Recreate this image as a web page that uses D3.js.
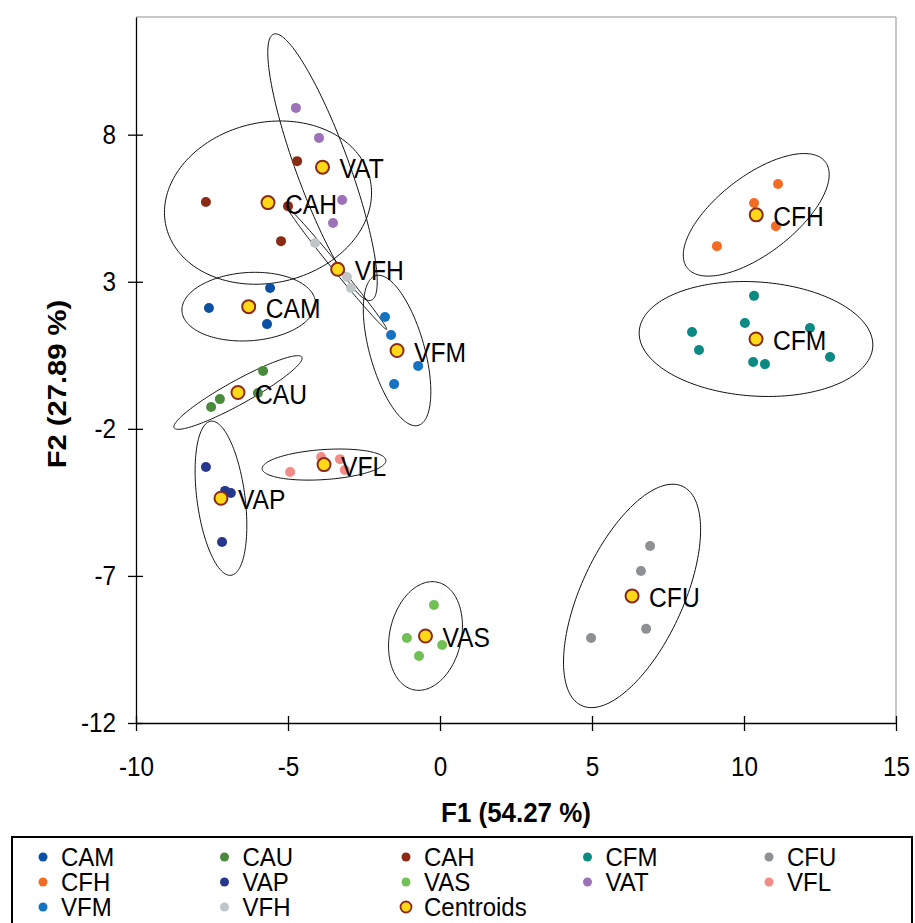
<!DOCTYPE html>
<meta charset="utf-8">
<style>
body { margin: 0; background: #fff; }
svg { font-family: "Liberation Sans", Arial, sans-serif; }
.axis path, .axis line { stroke: #000; stroke-width: 1.3px; }
.ellipse { fill: none; stroke: #111; stroke-width: 1px; }
.frame { stroke: #b4b4b4; stroke-width: 1.5px; }
</style>
<svg width="915" height="923"></svg>
<script src="https://d3js.org/d3.v7.min.js"></script>
<script>

var svg = d3.select("svg");

// groups, in legend order
var groups = ["CAM", "CAU", "CAH", "CFM", "CFU", "CFH", "VAP", "VAS", "VAT", "VFL", "VFM", "VFH"];
var groupColors = ["#0b50a3", "#4a8a3c", "#8b2b16", "#0a8a82", "#8d9193", "#f26c24",
                   "#26388c", "#72bf55", "#9e72b8", "#f18c88", "#1573c0", "#c0c6c8"];

// observations (F1, F2)
var obsGroup = ["CAM", "CAM", "CAM",
                "CAU", "CAU", "CAU", "CAU",
                "CAH", "CAH", "CAH", "CAH",
                "CFM", "CFM", "CFM", "CFM", "CFM", "CFM", "CFM", "CFM",
                "CFU", "CFU", "CFU", "CFU",
                "CFH", "CFH", "CFH", "CFH",
                "VAP", "VAP", "VAP", "VAP",
                "VAS", "VAS", "VAS", "VAS",
                "VAT", "VAT", "VAT", "VAT",
                "VFL", "VFL", "VFL", "VFL",
                "VFM", "VFM", "VFM", "VFM",
                "VFH", "VFH", "VFH"];
var obsF1 = [-7.60, -5.59, -5.69,
             -5.82, -5.99, -7.24, -7.53,
             -4.70, -7.70, -5.00, -5.23,
             10.33, 10.03, 8.29, 8.52, 12.17, 12.83, 10.30, 10.69,
             6.91, 6.61, 6.78, 4.97,
             11.12, 10.33, 11.05, 9.11,
             -7.70, -7.07, -6.88, -7.17,
             -0.20, -1.09, 0.07, -0.69,
             -4.74, -3.98, -3.22, -3.52,
             -4.93, -3.91, -3.29, -3.13,
             -1.81, -1.61, -0.72, -1.51,
             -4.11, -3.06, -2.93];
var obsF2 = [2.11, 2.79, 1.56,
             -0.03, -0.78, -0.99, -1.26,
             7.10, 5.71, 5.57, 4.38,
             2.52, 1.60, 1.29, 0.68, 1.43, 0.44, 0.27, 0.20,
             -5.98, -6.83, -8.80, -9.11,
             6.32, 5.68, 4.89, 4.21,
             -3.30, -4.11, -4.18, -5.85,
             -7.99, -9.11, -9.35, -9.72,
             8.91, 7.89, 5.78, 5.00,
             -3.47, -2.96, -3.03, -3.40,
             1.80, 1.19, 0.14, -0.48,
             4.32, 3.16, 2.79];

// confidence ellipses: semi-axes (F units) and rotation (degrees), per group
var ellMajor = [2.20, 2.42, 3.45, 3.85, 4.08, 2.90, 2.64, 1.87, 4.80, 2.04, 2.64, 2.60];
var ellMinor = [1.16, 0.40, 2.72, 1.94, 1.69, 1.30, 0.79, 1.18, 0.87, 0.51, 0.90, 0.12];
var ellAngle = [4, 29.8, 15, -4, 66.3, 38.9, -82.8, 78.4, -70.5, 4, -74.8, -51.7];

var xTicks = [-10, -5, 0, 5, 10, 15];
var yTicks = [-12, -7, -2, 3, 8];

var x = d3.scaleLinear().domain([-10, 15]).range([136, 896]);
var y = d3.scaleLinear().domain([-12, 12]).range([723, 17]);

var color = d3.scaleOrdinal().domain(groups).range(groupColors);

// the original text is a little narrow and tall
var squeeze = 0.9;

var obs = obsGroup.map(function(g, i) { return {group: g, f1: obsF1[i], f2: obsF2[i]}; });

var centroids = groups.map(function(g, i) {
  var pts = obs.filter(function(d) { return d.group == g; });
  return {
    group: g,
    f1: d3.mean(pts, function(d) { return d.f1; }),
    f2: d3.mean(pts, function(d) { return d.f2; }),
    a: ellMajor[i], b: ellMinor[i], angle: ellAngle[i] * Math.PI / 180
  };
});

// frame (top / right)
svg.append("line").attr("class", "frame")
    .attr("x1", x(-10)).attr("x2", x(15)).attr("y1", y(12)).attr("y2", y(12));
svg.append("line").attr("class", "frame")
    .attr("x1", x(15)).attr("x2", x(15)).attr("y1", y(12)).attr("y2", y(-12));

// axes
var xAxis = svg.append("g")
    .attr("class", "axis")
    .attr("transform", "translate(0," + y(-12) + ")")
    .call(d3.axisBottom(x).tickValues(xTicks).tickFormat(function(d) { return String(d); })
      .tickSizeInner(8).tickSizeOuter(0).tickPadding(26));
xAxis.selectAll(".tick line").attr("y1", -7);
xAxis.selectAll(".tick text").attr("transform", "scale(" + squeeze + ",1)");

var yAxis = svg.append("g")
    .attr("class", "axis")
    .attr("transform", "translate(" + x(-10) + ",0)")
    .call(d3.axisLeft(y).tickValues(yTicks).tickFormat(function(d) { return String(d); })
      .tickSizeInner(8).tickSizeOuter(0).tickPadding(12));
yAxis.selectAll(".tick line").attr("x1", 7);
yAxis.selectAll(".tick text")
    .attr("x", -20 / squeeze)
    .attr("transform", "scale(" + squeeze + ",1)");

svg.selectAll(".axis")
    .attr("font-family", "Liberation Sans, Arial, sans-serif")
    .attr("font-size", 27);
svg.selectAll(".axis text").attr("fill", "#000");

svg.append("text")
    .attr("transform", "translate(" + (x(-10) + x(15)) / 2 + ",822) scale(0.96,1)")
    .attr("text-anchor", "middle")
    .attr("font-weight", "bold")
    .attr("font-size", 27)
    .text("F1 (54.27 %)");

svg.append("text")
    .attr("transform", "translate(66,384) rotate(-90) scale(1.08,0.96)")
    .attr("text-anchor", "middle")
    .attr("font-weight", "bold")
    .attr("font-size", 27)
    .text("F2 (27.89 %)");

// ellipses
var line = d3.line().curve(d3.curveLinearClosed);
svg.append("g").selectAll("path")
    .data(centroids)
    .enter().append("path")
      .attr("class", "ellipse")
      .attr("d", function(c) {
        var ca = Math.cos(c.angle), sa = Math.sin(c.angle);
        var pts = d3.range(0, 2 * Math.PI, Math.PI / 90).map(function(t) {
          var u = c.a * Math.cos(t), v = c.b * Math.sin(t);
          return [x(c.f1 + u * ca - v * sa), y(c.f2 + u * sa + v * ca)];
        });
        return line(pts);
      });

// observations
svg.append("g").selectAll("circle")
    .data(obs)
    .enter().append("circle")
      .attr("cx", function(d) { return x(d.f1); })
      .attr("cy", function(d) { return y(d.f2); })
      .attr("r", 5)
      .style("fill", function(d) { return color(d.group); });

// centroids
svg.append("g").selectAll("circle")
    .data(centroids)
    .enter().append("circle")
      .attr("cx", function(d) { return x(d.f1); })
      .attr("cy", function(d) { return y(d.f2); })
      .attr("r", 6.5)
      .style("fill", "#ffd918")
      .style("stroke", "#8b2b16")
      .style("stroke-width", 2);

svg.append("g").selectAll("text")
    .data(centroids)
    .enter().append("text")
      .attr("transform", function(d) {
        return "translate(" + (x(d.f1) + 17) + "," + (y(d.f2) + 11) + ") scale(0.88,1)";
      })
      .attr("font-size", 28)
      .text(function(d) { return d.group; });

// legend
svg.append("rect")
    .attr("x", 12).attr("y", 837)
    .attr("width", 900).attr("height", 100)
    .style("fill", "none").style("stroke", "#000").style("stroke-width", 2);

var legendItems = groups.concat(["Centroids"]);
var legend = svg.append("g").selectAll("g")
    .data(legendItems)
    .enter().append("g")
      .attr("transform", function(d, i) {
        return "translate(" + (43 + (i % 5) * 181.5) + "," + (857 + Math.floor(i / 5) * 25) + ")";
      });

legend.append("circle")
    .attr("r", function(d) { return d == "Centroids" ? 5.5 : 4.5; })
    .style("fill", function(d) { return d == "Centroids" ? "#ffd918" : color(d); })
    .style("stroke", function(d) { return d == "Centroids" ? "#8b2b16" : "none"; })
    .style("stroke-width", 1.8);

legend.append("text")
    .attr("x", 18)
    .attr("dy", "0.36em")
    .attr("transform", "scale(1,1.05)")
    .attr("font-size", 24)
    .text(function(d) { return d; });

</script>
